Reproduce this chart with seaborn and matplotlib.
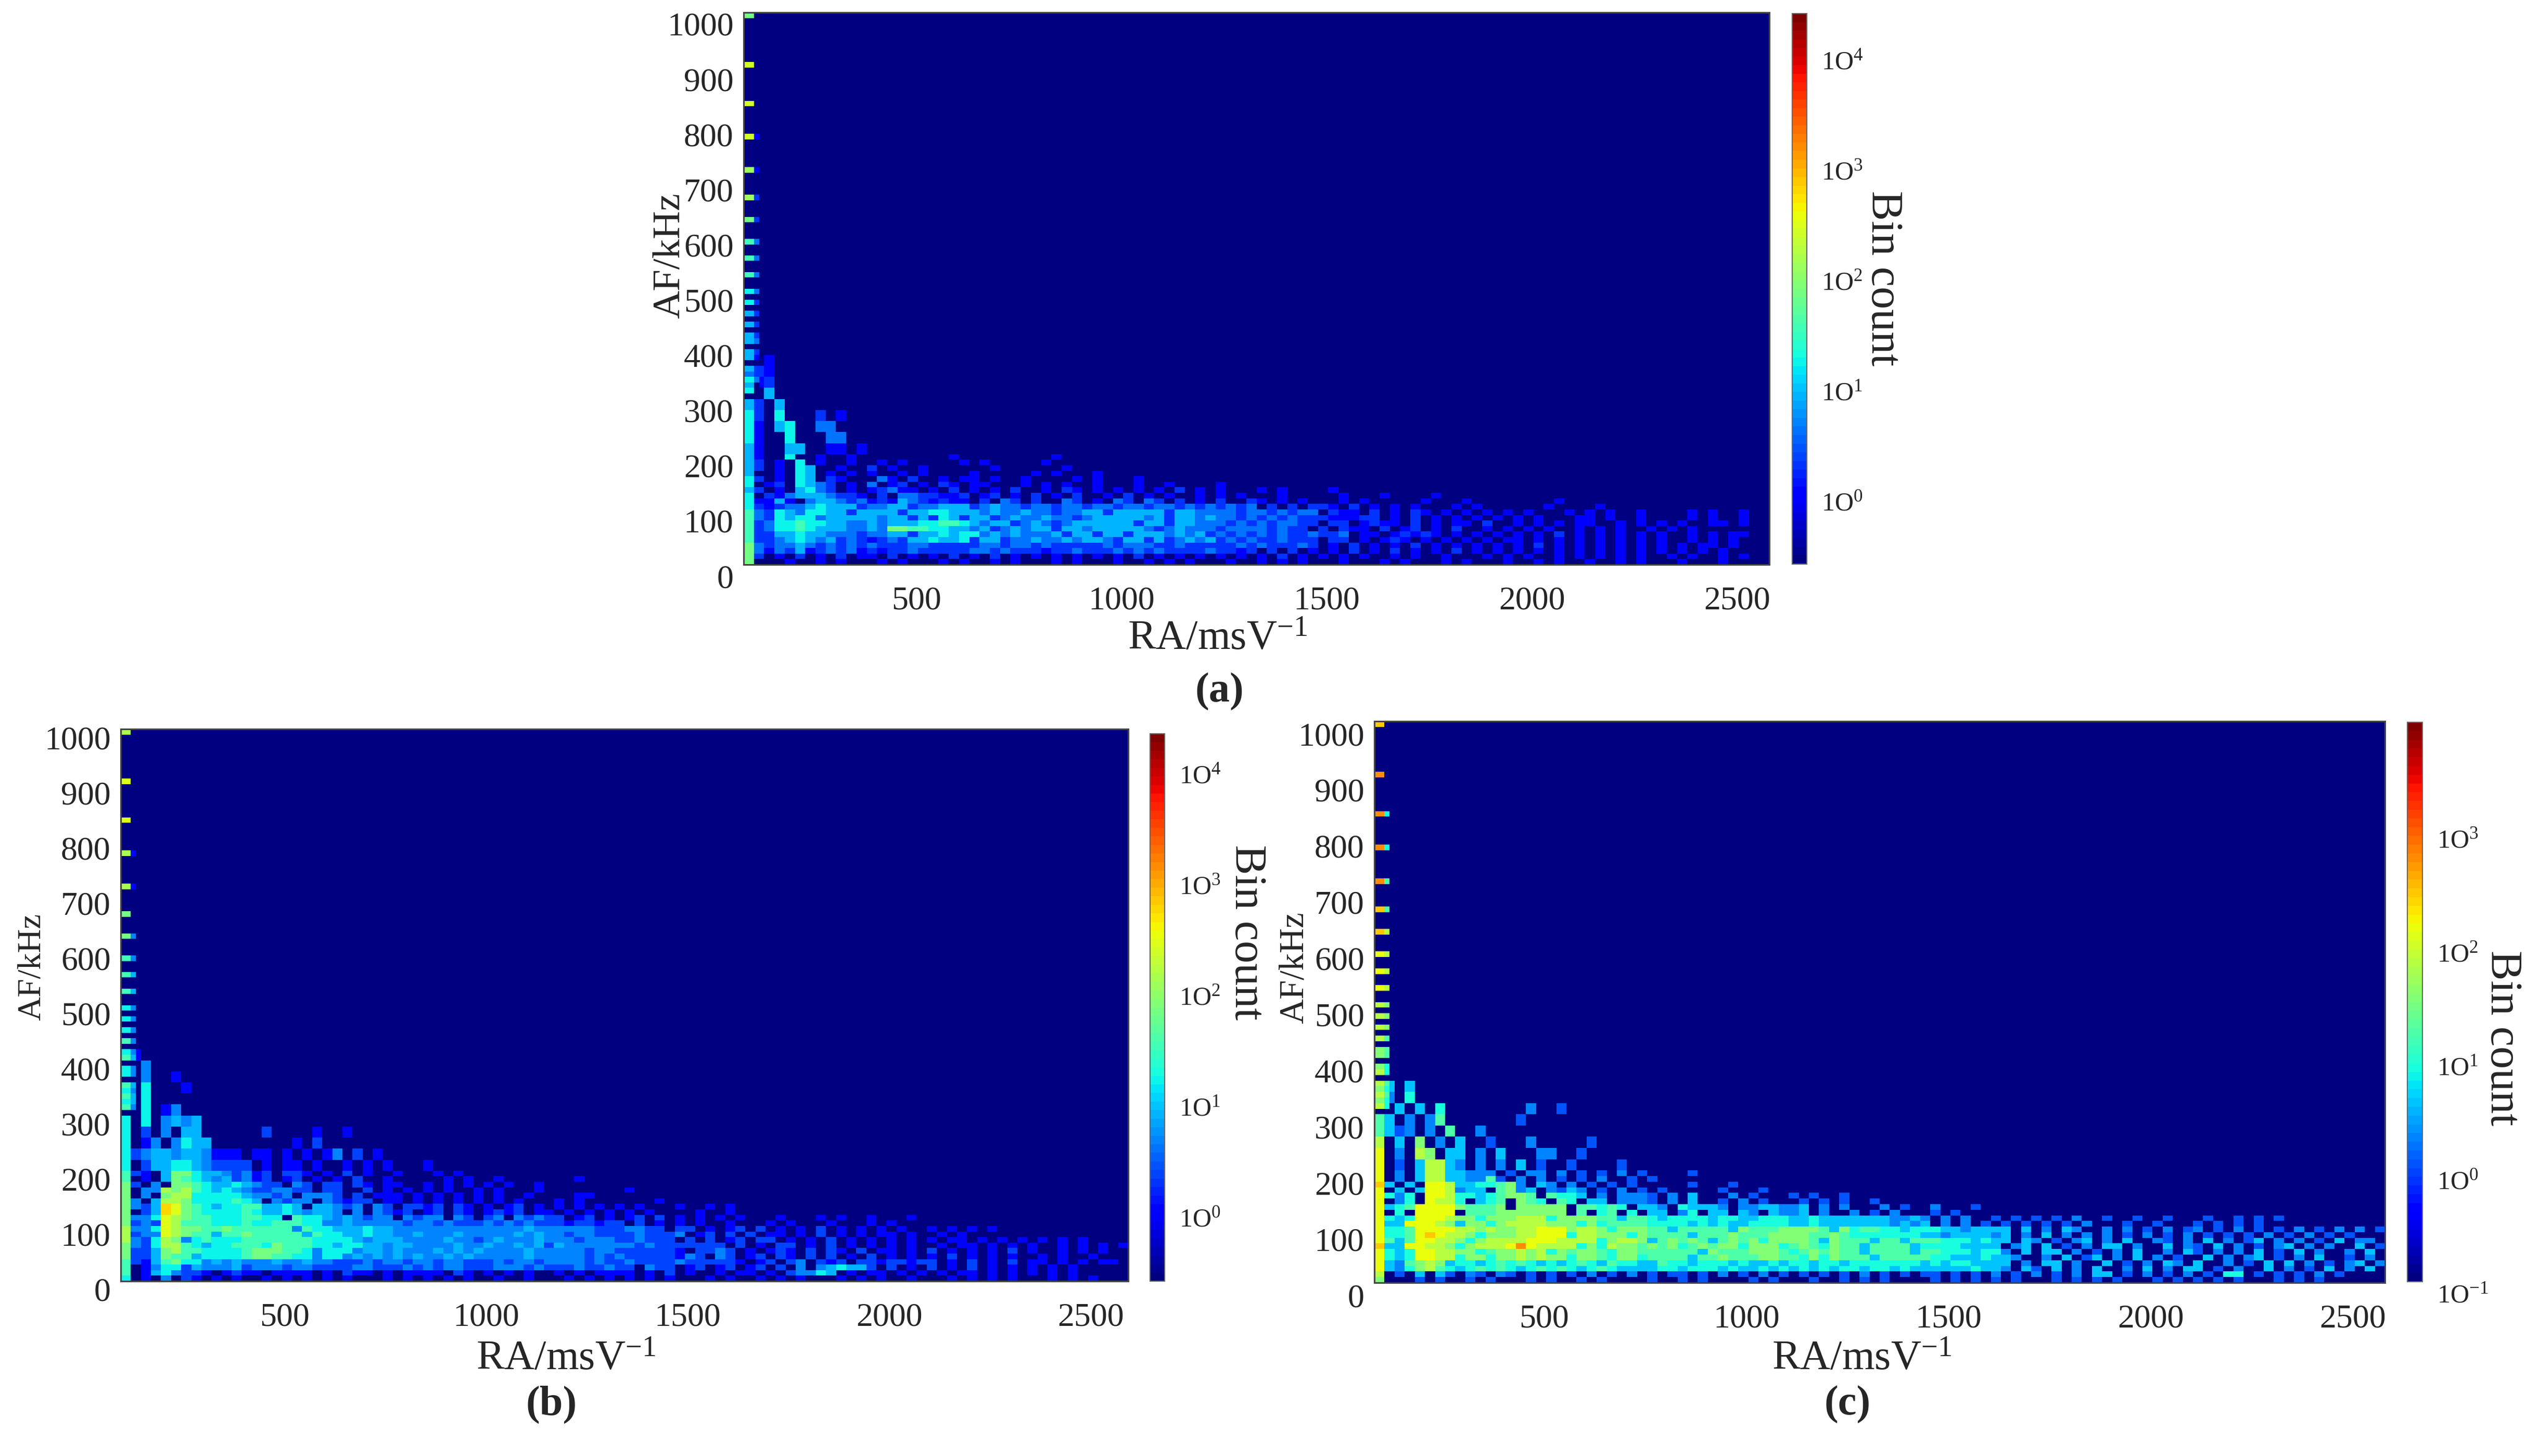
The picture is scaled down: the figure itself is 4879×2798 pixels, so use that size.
import numpy as np
import seaborn as sns
import matplotlib.pyplot as plt
from matplotlib.colors import LogNorm
from matplotlib.transforms import ScaledTranslation

W, H = 4879, 2798
DPI = 100

sns.set_style("white")
plt.rcParams['font.family'] = ['Liberation Serif', 'DejaVu Serif']
plt.rcParams['mathtext.fontset'] = 'custom'
plt.rcParams['mathtext.rm'] = 'Liberation Serif'
plt.rcParams['mathtext.default'] = 'rm'
plt.rcParams['mathtext.fallback'] = 'stix'

level_counts = {'.': 0.1, '1': 1, '2': 2, '3': 4, '4': 8, '5': 16, '6': 32,
                '7': 64, '8': 128, '9': 256, 'a': 500}

# high rows are 20 kHz tall and end at the 200-220 kHz row, columns are 25 msV^-1 wide
high_a = [
    "..1",
    ".21",
    ".12",
    "..4",
    "42.4",
    "52.5...2.1",
    "51.45..33",
    "51..5...33",
    "41..44..11.1",
]
# low rows are 10 kHz tall, first string is 190-200 kHz, last is 0-10 kHz
low_a = [
    "41..5..1..1.........1.........1",
    "42.1.5.1..1..1.1.....1.1.....1",
    "42.1.54..1..2.1..1......1......1",
    "4..1.54.1.1.1..1.1....1.....1.1...1",
    "52.1.54.21...31.2..1.11.1..1....1.1...1",
    "5.12.5432.1.3.12.1.21.11...1.1.1..1...1..1....1",
    "42.1.4532.1.12311.1.2.1.1.2..1.21.1.1.1.1.2.1.1...1.1....1",
    "5.2134443221.2.3322112.12.1.2.1.2..1.2.1.1..1.1.1...1.....1...1....1",
    "51141.3443231214321211.2.32.2..32.1.32.32.2.1.2..21.1.1...1.1.....1...1........1",
    "52123345444233442334442343323323323323323323232323.2.2.221.2.1.1.1...1.1......1....1",
    "63254355442444424455444343343323344244444244333323323233.211.2.1.21.1.1.1.1.1...1.1.1..1....1.1..1",
    "63254553444443442425424423433433234444434244343323232322211122.1.2.1.1.1.1.1.1...11.1..1....1.1..1",
    "62355655443343444556654344234323444444244244333232323322.22.1211.2.1.11.2..1.1.1.11..1.1.1.1..11.1",
    "6235565444334377665544342343442443444443234333233332322.2.211.2.12.1.2..1.1.1.1..1.1.1..1.1.1",
    "62244544333233442445455343433342442442444343423232323223223.11.12121.1.1.1.1.1.2.1.1.1.1.1..1.1.11",
    "62234543423212324454452442334334344324424234342323223222.22.1.121.1.1.1.1.11.1.1.1.1.1.1.1..1.1.1",
    "73233432323232223322222332332322222323332232222232322232.1.2.1.1.2.1.1.1.1.1.2.1.1.1.1.1.1.1.11.1",
    "73132412323121223222223323222122322232323222232212.2.2.1.1.2.1.2.1.1.2.1.1.1.1.1.1.1.1.1.1.1.1.1",
    "72.1.2.1.2.11.2.1.1.2.1.2.1.1.1.1.1.1.2.1.1.1.1.1.1.2.1.1.1.1..1.1..1...1.1.1..1.1.1.1.1..1.1..1.1",
    "7...1..1.1...1.1...1.1..1.1...1.1...1..1.1.1...1..1.1.1...1...1.1...1.1...1..1.1..1..1.1...1...1",
]

high_b = [
    ".1",
    "..3",
    "..3..1",
    "..5...1",
    "..5",
    "..5.13",
    "5.5.3434",
    "5.2.3.44......2....1..1",
    "5.13.3544........1.2",
    "523443443111.11.1.1.13.2.1",
    "5.24455432222.1.11.1..1.1.1...1",
]
low_b = [
    "621.47754432312.221.1.2.1..1...1.1",
    "6.1.47654342312.12.1.1.2..1.....1.1..1.......1",
    "72.3.77654454322.32.22.21.11..1.1.1.1.1..1",
    "7.33878654543223322.22..2.1.1.1.1..1.1...1........1",
    "7.3.7885555543323.3332.2.111.1.1.1.1.1..1....11",
    "73.48875555654.3233.32122.11.1.1.1.1.1.1...1.1.......1",
    "7324a9765455664454.44323.32.2212.21.1.12.1.1.1.1.1.1...1..1.1",
    "7.24a97655556544543443.3.3212.12.21.1212.11.1.1.1.1.1....1..1",
    "7335987665556655.6554343233.3233.32.23.32322.12.1.12.2.1.1.1.1...1...1.1..1...1",
    "72329866655565566655334333332332322232323222122122.2.1.1.1..1...1.1...1...1.1",
    "833598776676666663655444544333333333333343333332223322.22.1.12.2.1.1.2.1.1.1.1..1.1.1.1",
    "82339876646676666646554454433433343333343433233222232223.12.2.2.11.1.2.1.1.11.1..1.1",
    "8325873565556666666555543444333343323433343332333223222.2.2.12.22.1.1.2.1.1.1.1.1.11.1.1.1.1.1.1",
    "732588654556665766655455443443333433433434243333333232222222.2.1.22.1.2.1.1.1.1..1.11.1.1.1..1.1.1.1",
    "72247866555567776653555344343334343433334333332332222221.2232.1.121.2.21.2.11.1.2.1.1.1.2.1..1.1.1",
    "7224766455556776655355343434343343433333433333232322222132.32.12.21.2.2.1.2.1.1.1.2.1.1.1..1.1..1",
    "62146755343433343343322232332332332223233233332322322223222221.12.23.212.22122122.1.2.1.2.11.1.1.11",
    "6.1355243334233323322223322232323322233323222322322.322.12.12.12.2.3.345442.2.1.2.1.2.1.1.1.1.1",
    "6.1453221.1211.1111.1.211.1.1111.21.1.1.1..1.1.1111.1.2.1..1.11.1.23354.1.11.1.1.1.11.1.1.1.1.1",
    "5.1.3.21.1.1..1.1.1.1.1...1.1.1.1.1..1..1...1.1.1.1.1.1...1.1..1.1.1...1.1.1..1...1.1.1.1...1.1.1",
]

high_c = [
    ".3.3",
    ".2.4",
    "..3.3.4........2..1",
    "53.2.25.......1",
    "5312.2.5..2",
    "7.3.6.2.3..1...2.....1",
    "8.2.76.33.2.3...22..1",
    "8.1.37732.2.2.3.1..1....1",
]
low_c = [
    "8.2.37733222.1.22.2.1.1.2.1....1",
    "8.2.377332251.2.2.1.1.2..1.1",
    "93.3.8873344562.32.2.1.1.1.....1...1",
    "8.3.3887233.5623.2132.1.2.1.1.....1...1",
    "8424.88744345665.5443.2.2221.2.3...2.1...1.1..1",
    "8.24.8774.345.654.54.33.2221.2.3..1.2.1...1.1.1..1",
    "8345888865556.66666.55454.332.43332.2233223.2.2...2.1..2...1",
    "8.4.8888.5556666666.5.45.4.33.24.33.32.3223.2..2.1.2...1.1",
    "8434888766466677746666553554344443443344433433333332232.2.2..1.1.1.1.2..1..1..1...1..1.1.1",
    "8338887636646777766646455554444343433444433433333332323.2.2.1.1.1.1.1.2...1..1...1.1.1.1",
    "844588887767667788867764666553555553655566665364554434443323333.3.2.32..2.2.1.2.12.1.2.1.1.2.1.2.2.1",
    "844589877646667788847766646555535556555666655654444444332333323.2.3.2.2.2.1.2.1.2.1.1.1.2.1.2.1.1",
    "853588776467777888777746776356565356564666653655535535554443433.32.1.23.2.3..21.2.3.2.13.2.2.1.3.22.",
    "93388776467778a87777464766565645656646664565465535555344443333.23.3.1.2.33.2..3.21.3.2.1.23.2.2..3.1",
    "843488776645667674656654665555553655566654565655355553554443442.3.33.2.1.2.3..2.31.2.2.3.1.3.2..2.3",
    "8434887746646676766466546645555355655566554646555355555443334332..2.3.13.2.3.2.1..3.2.23.1.2.3..1.2",
    "832567634434545434345435443354434443433434434434444444343443333.2.33.2..3.1.2.32.3..2.1.3.3.2.1.23.2",
    "832467543454543454543454333344344434334343434344344343333334332.31.3.2.3..2.3.2.33.1.2..3.2.1.3.2.3",
    "7.1.3.31.21.21.1.1.1.2.1.2.1.11.1.2.1.2.1.1.1.1.2.1.1.11.1.1.2.1.2.1.2.33.1.2.1.2.1.44.1.1.1.2.1",
    "6...1.1..1.1...1.1..1.1....1..1.1....1.1...1..1.1.1....1.1.1.1.1...1.1.1.1...1.1.1.1.1...1.1.1",
]

# thin horizontal stripes at very low RA, same AF values in all three tests
stripe_af = [998, 908, 833, 770, 716, 668, 625, 587, 556, 524, 497, 476,
             455, 434, 418, 402, 386, 370, 359, 342, 333, 323, 311]
stripe_a = "79998876665544444443545"
stripe_a_side = "...112233332222321223.."
stripe_b = "89988776665556565565656"
stripe_b_side = "...11.33443333343343443"
stripe_c = "9aaaa998887777666776767"
stripe_c_side = "..445577776665554454544"

x_ticks = [500, 1000, 1500, 2000, 2500]
y_ticks = [0, 100, 200, 300, 400, 500, 600, 700, 800, 900, 1000]
cbar_decades_ab = [1, 10, 100, 1000, 10000]
cbar_labels_ab = ['1O$^{0}$', '1O$^{1}$', '1O$^{2}$', '1O$^{3}$', '1O$^{4}$']
cbar_decades_c = [0.1, 1, 10, 100, 1000]
cbar_labels_c = ['1O$^{-1}$', '1O$^{0}$', '1O$^{1}$', '1O$^{2}$', '1O$^{3}$']

jet = plt.get_cmap('jet', 64)
fig = plt.figure(figsize=(W / DPI, H / DPI), dpi=DPI)


def px_axes(x0, y0, x1, y1):
    return fig.add_axes([x0 / W, 1 - y1 / H, (x1 - x0) / W, (y1 - y0) / H])


def px_text(x, y, s, **kw):
    fig.text(x / W, 1 - y / H, s, ha='center', va='center', **kw)


def shift(labels, dx, dy):
    off = ScaledTranslation(dx / DPI, -dy / DPI, fig.dpi_scale_trans)
    for lab in labels:
        lab.set_transform(lab.get_transform() + off)


def build_grid(high, low, main, side):
    grid = np.full((100, 200), 0.1)
    for i, row in enumerate(low[::-1]):
        for j, ch in enumerate(row[:100]):
            grid[i, 2 * j:2 * j + 2] = level_counts[ch]
    for i, row in enumerate(high[::-1]):
        for j, ch in enumerate(row[:100]):
            grid[20 + 2 * i:22 + 2 * i, 2 * j:2 * j + 2] = level_counts[ch]
    for af, m, s in zip(stripe_af, main, side):
        r = af // 10
        grid[r, 0:2] = level_counts[m]
        grid[r, 2] = level_counts[s]
    return grid


def panel(high, low, main, side, box, cbox, vmin, vmax, decades, dec_labels, xshift, yshift, cshift):
    ax = px_axes(*box)
    cax = px_axes(*cbox)
    sns.heatmap(build_grid(high, low, main, side), ax=ax, cbar_ax=cax, cmap=jet,
                norm=LogNorm(vmin=vmin, vmax=vmax),
                xticklabels=False, yticklabels=False)
    ax.set_xlim(0, 200)
    ax.set_ylim(0, 100)
    ax.set_xticks(np.array(x_ticks) / 12.5, labels=[str(v) for v in x_ticks])
    ax.set_yticks(np.array(y_ticks) / 10, labels=[str(v) for v in y_ticks])
    for s in ax.spines.values():
        s.set_visible(True)
        s.set_color('#444444')
        s.set_linewidth(2.2)
    ax.tick_params(axis='x', direction='in', length=15, width=1.8, color='#333333',
                   top=True, bottom=True, labelsize=46, pad=30, labelrotation=0)
    ax.tick_params(axis='y', direction='in', length=14, width=1.8, color='#333333',
                   left=True, right=True, labelsize=46, pad=14, labelrotation=0)
    shift(ax.get_xticklabels(), xshift, 0)
    shift(ax.get_yticklabels(), 0, yshift)

    cb = ax.collections[0].colorbar
    cb.set_ticks(decades, labels=dec_labels)
    minors = [d * k for d in decades for k in range(2, 10) if vmin < d * k < vmax]
    cb.set_ticks(minors, minor=True)
    cb.outline.set_visible(True)
    cb.outline.set_linewidth(1.5)
    cb.outline.set_edgecolor('#666666')
    cax.tick_params(axis='y', which='major', direction='in', length=8, width=1.2,
                    color='#333333', labelsize=36, pad=20, right=True, left=False)
    cax.tick_params(axis='y', which='minor', direction='in', length=4, width=1.0,
                    color='#333333', right=True, left=False)
    shift(cax.get_yticklabels(), 0, cshift)
    return ax


panel(high_a, low_a, stripe_a, stripe_a_side, (1429, 24, 3400, 1085), (3444, 26, 3472, 1084),
      0.24, 23600, cbar_decades_ab, cbar_labels_ab, -62, 22, 10)
panel(high_b, low_b, stripe_b, stripe_b_side, (232, 1401, 2168, 2462), (2210, 1410, 2238, 2462),
      0.23, 20000, cbar_decades_ab, cbar_labels_ab, -72, 16, 13)
panel(high_c, low_c, stripe_c, stripe_c_side, (2641, 1386, 4583, 2465), (4626, 1388, 4655, 2463),
      0.1, 8300, cbar_decades_c, cbar_labels_c, -62, 24, 22)

# axis titles and panel letters
ra_label = 'RA/msV$^{-1}$'
px_text(2340, 1229, ra_label, fontsize=58)
px_text(1088, 2613, ra_label, fontsize=58)
px_text(3578, 2613, ra_label, fontsize=58)
px_text(1288, 491, 'AF/kHz', fontsize=54, rotation=90)
px_text(62, 1858, 'AF/kHz', fontsize=46, rotation=90)
px_text(2487, 1860, 'AF/kHz', fontsize=48, rotation=90)
px_text(3618, 535, 'Bin count', fontsize=62, rotation=270)
px_text(2395, 1792, 'Bin count', fontsize=62, rotation=270)
px_text(4808, 1995, 'Bin count', fontsize=62, rotation=270)
px_text(2343, 1329, '(a)', fontsize=58, fontweight='bold')
px_text(1060, 2699, '(b)', fontsize=58, fontweight='bold')
px_text(3550, 2699, '(c)', fontsize=58, fontweight='bold')

plt.savefig('out.png', dpi=DPI)
